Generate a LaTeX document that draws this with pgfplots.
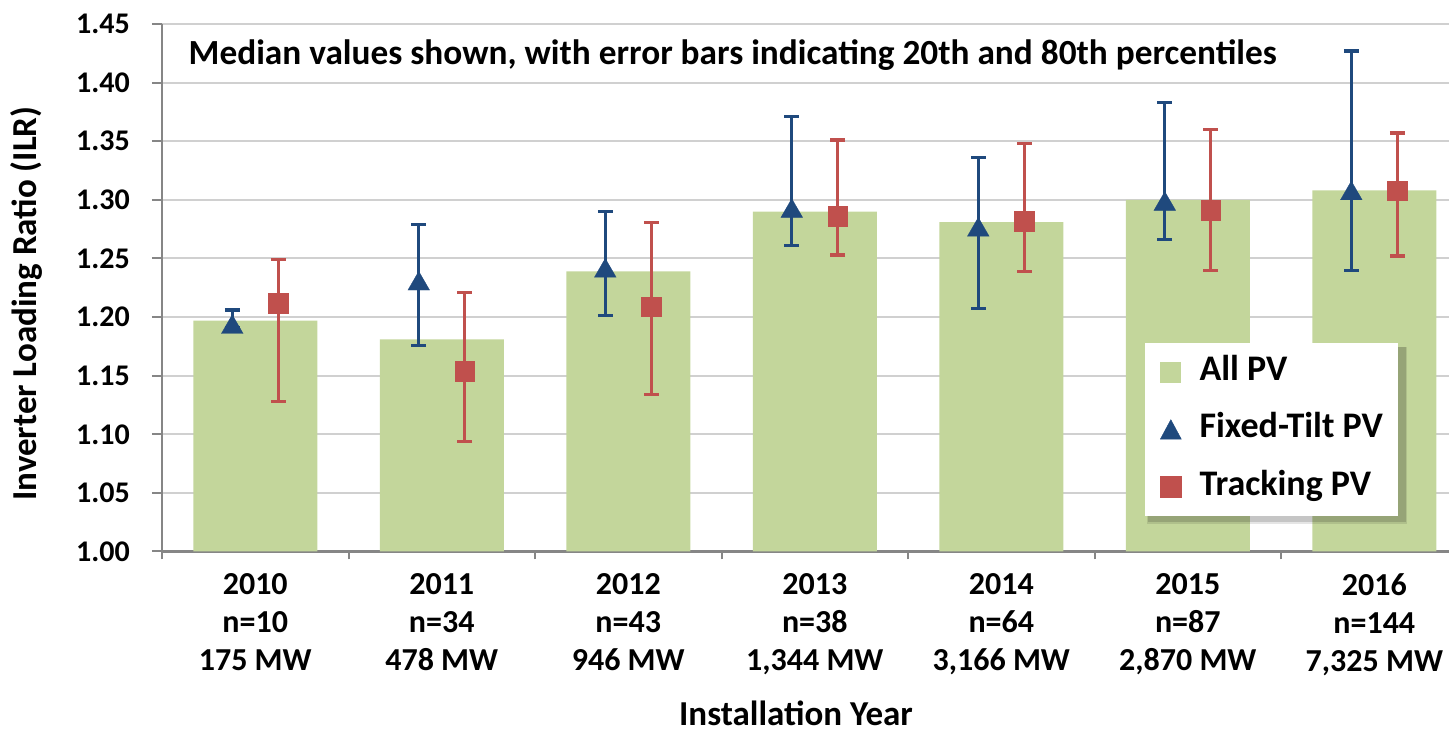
\documentclass[border=0pt]{standalone}
\usepackage{pgfplots}
\pgfplotsset{compat=1.18}
\usepackage{pgfplotstable}
\usepackage{fontspec}
\setmainfont{Carlito}
\definecolor{allpv}{HTML}{C3D69B}
\definecolor{fixc}{HTML}{1F497D}
\definecolor{trc}{HTML}{C0504D}
\definecolor{gridc}{HTML}{D0D0D0}
\definecolor{axc}{HTML}{868686}

\pgfplotstableread{
x all fx fxhi fxlo tr trhi trlo
0 1.197 1.194 1.206 1.191 1.212 1.249 1.128
1 1.181 1.231 1.279 1.176 1.154 1.221 1.094
2 1.239 1.242 1.290 1.201 1.209 1.281 1.134
3 1.290 1.293 1.371 1.261 1.286 1.351 1.253
4 1.281 1.277 1.336 1.207 1.282 1.348 1.239
5 1.300 1.299 1.383 1.266 1.291 1.360 1.240
6 1.308 1.308 1.427 1.240 1.308 1.357 1.252
}\datatable

\begin{document}
\begin{tikzpicture}
\path[use as bounding box] (-162pt,-183.5pt) rectangle (1287pt,551.5pt);
\begin{axis}[
  at={(0pt,0pt)}, anchor=south west,
  scale only axis, width=1287pt, height=527.5pt,
  xmin=-0.5, xmax=6.4, ymin=1, ymax=1.45,
  axis x line*=bottom, axis y line*=left,
  axis line style={axc, line width=2.5pt, -},
  tick align=outside,
  major tick length=10pt, minor tick length=8pt,
  tick style={axc, line width=2pt},
  major x tick style={draw=none},
  xtick={0,1,2,3,4,5,6},
  minor xtick={-0.5,0.5,1.5,2.5,3.5,4.5,5.5},
  xticklabels={{2010\\n=10\\175 MW},{2011\\n=34\\478 MW},{2012\\n=43\\946 MW},{2013\\n=38\\1,344 MW},{2014\\n=64\\3,166 MW},{2015\\n=87\\2,870 MW},{2016\\n=144\\7,325 MW}},
  xticklabel style={align=center, anchor=north, inner sep=0pt, yshift=-11.5pt, font=\fontsize{32}{38}\selectfont\bfseries},
  ytick={1,1.05,1.1,1.15,1.2,1.25,1.3,1.35,1.4,1.45},
  /pgf/number format/assume math mode=true,
  yticklabel style={/pgf/number format/fixed, /pgf/number format/fixed zerofill, /pgf/number format/precision=2, anchor=east, inner sep=0pt, xshift=-22pt, font=\fontsize{30}{36}\selectfont\bfseries},
  ymajorgrids, xmajorgrids=false,
  grid style={gridc, line width=2pt},
  xlabel={Installation Year},
  xlabel style={at={(rel axis cs:0.4926,0)}, anchor=base, yshift=-174.5pt, font=\fontsize{35}{40}\selectfont\bfseries},
  ylabel={Inverter Loading Ratio (ILR)},
  ylabel style={at={(rel axis cs:-0.09713,0.4701)}, anchor=base, font=\fontsize{35}{40}\selectfont\bfseries},
  clip=false,
  legend style={at={(rel axis cs:0.7638,0.3953)}, anchor=north west,
    draw=none, fill=white,
    inner xsep=15pt, inner ysep=14pt, row sep=27.5pt,
    font=\fontsize{36}{42}\selectfont\bfseries,
    nodes={inner sep=0pt, text height=23pt, text depth=7pt},
    /tikz/every odd column/.append style={column sep=18pt}},
  legend cell align=left,
]
\addplot[ybar, bar width=124pt, fill=allpv, draw=none, bar shift=0pt,
  legend image code/.code={\fill[allpv] (0pt,-10.5pt) rectangle (21pt,10.5pt);}]
  table[x=x, y=all] {\datatable};
\addlegendentry{All PV}
\addplot[only marks, mark=triangle*, mark size=12.5pt, color=fixc,
  mark options={fill=fixc, draw=fixc, line width=0.3pt, yshift=-3.1pt},
  legend image code/.code={\fill[fixc] (0pt,-9.5pt) -- (21pt,-9.5pt) -- (10.5pt,10pt) -- cycle;},
  error bars/.cd, y dir=both, y explicit,
  error bar style={line width=3.2pt, fixc},
  error mark options={rotate=90, mark size=7.4pt, line width=3.2pt, fixc}]
  table[x expr=\thisrow{x}-0.1233, y=fx,
        y error plus expr=\thisrow{fxhi}-\thisrow{fx},
        y error minus expr=\thisrow{fx}-\thisrow{fxlo}] {\datatable};
\addlegendentry{Fixed-Tilt PV}
\addplot[only marks, mark=square*, mark size=9.8pt, color=trc,
  mark options={fill=trc, draw=trc, line width=0.3pt},
  legend image code/.code={\fill[trc] (0pt,-10.5pt) rectangle (21pt,10.5pt);},
  error bars/.cd, y dir=both, y explicit,
  error bar style={line width=3.2pt, trc},
  error mark options={rotate=90, mark size=7.4pt, line width=3.2pt, trc}]
  table[x expr=\thisrow{x}+0.1233, y=tr,
        y error plus expr=\thisrow{trhi}-\thisrow{tr},
        y error minus expr=\thisrow{tr}-\thisrow{trlo}] {\datatable};
\addlegendentry{Tracking PV}
\fill[black, opacity=0.10] (rel axis cs:0.7653,0.0530) rectangle (rel axis cs:0.9675,0.3880);
\fill[black, opacity=0.14] (rel axis cs:0.7661,0.0560) rectangle (rel axis cs:0.9665,0.3870);
\node[anchor=base west, inner sep=0pt, font=\fontsize{35.3}{40}\selectfont\bfseries] at (rel axis cs:0,1) [xshift=26.5pt, yshift=-41pt] {Median values shown, with error bars indicating 20th and 80th percentiles};
\end{axis}
\end{tikzpicture}
\end{document}
